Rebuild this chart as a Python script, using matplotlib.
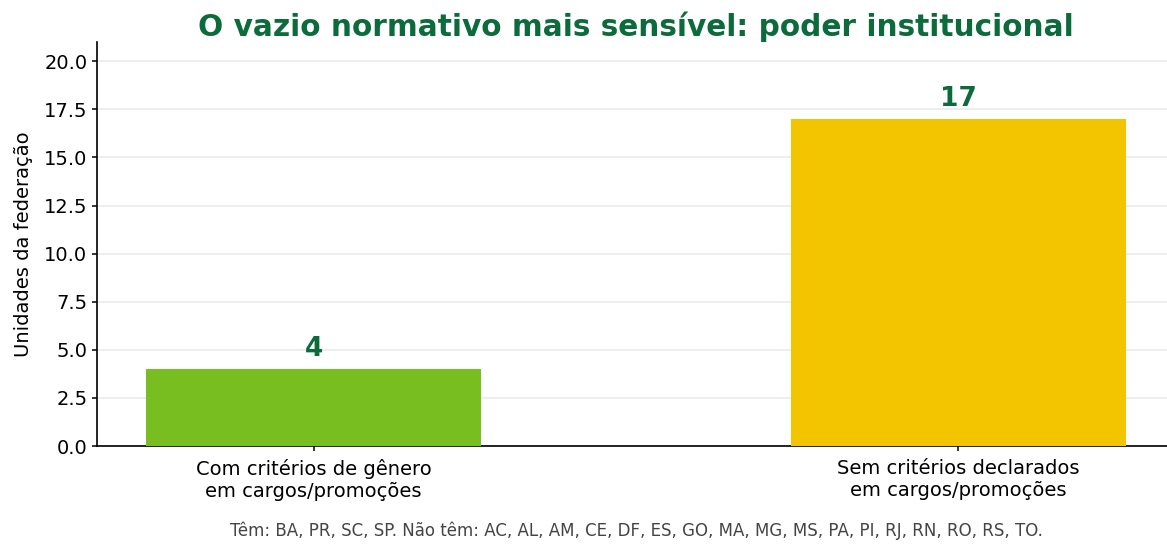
import matplotlib.pyplot as plt

categories = ['Com critérios de gênero\nem cargos/promoções',
              'Sem critérios declarados\nem cargos/promoções']
values = [4, 17]
colors = ['#78be20', '#f2c500']
footnote = ('Têm: BA, PR, SC, SP. Não têm: AC, AL, AM, CE, DF, ES, GO, MA, MG, '
            'MS, PA, PI, RJ, RN, RO, RS, TO.')

fig = plt.figure(figsize=(11.67, 5.44), dpi=100)
ax = fig.add_axes([0.0831, 0.1801, 0.9238, 0.7427])

x = range(len(categories))
bars = ax.bar(x, values, width=0.52, color=colors, zorder=3)
for b, v in zip(bars, values):
    ax.annotate(str(v), (b.get_x() + b.get_width() / 2, v), xytext=(0, 5),
                textcoords='offset points', ha='center', va='bottom',
                fontsize=19, fontweight='bold', color='#0b6b3a')

ax.set_ylim(0, 21)
ax.set_yticks([0, 2.5, 5, 7.5, 10, 12.5, 15, 17.5, 20])
ax.set_xticks(list(x))
ax.set_xticklabels(categories, fontsize=14)
ax.tick_params(axis='y', labelsize=14, width=1.1)
ax.tick_params(axis='x', pad=6, width=1.1)
ax.set_ylabel('Unidades da federação', fontsize=14, labelpad=8)
ax.yaxis.grid(True, color='#ebebeb', linewidth=1.2, zorder=0)
ax.set_axisbelow(True)
for s in ['top', 'right']:
    ax.spines[s].set_visible(False)
for s in ['left', 'bottom']:
    ax.spines[s].set_linewidth(1.2)

ax.set_title('O vazio normativo mais sensível: poder institucional',
             fontsize=21.3, fontweight='bold', color='#0b6b3a', pad=4)
fig.text(0.545, 0.025, footnote, ha='center', va='center', fontsize=12,
         color='#444444')

fig.savefig('out.png', dpi=100)
